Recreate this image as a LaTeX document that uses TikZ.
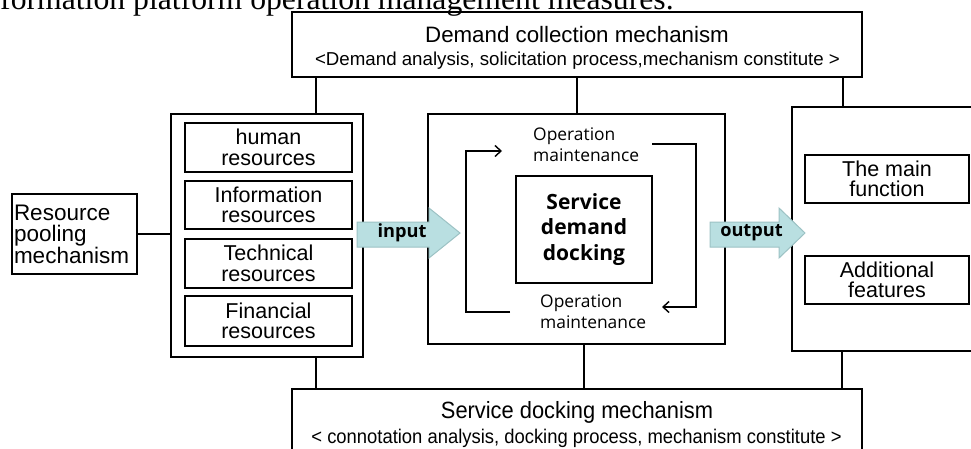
\documentclass[tikz,border=0pt]{standalone}
\usepackage{fontspec}
\setmainfont{Liberation Sans}
\newfontfamily\serifcap{Liberation Serif}
\newfontfamily\seg{Open Sans}
\newfontfamily\narrowsans[FakeStretch=0.93]{Liberation Sans}
\usetikzlibrary{arrows.meta}
\definecolor{arrfill}{HTML}{B9DFE1}
\definecolor{arrline}{HTML}{9CC2C4}
\begin{document}
\begin{tikzpicture}[x=1pt,y=-1pt,
  box/.style={draw, line width=1.8pt, inner sep=0pt, outer sep=0pt, align=center},
  resbox/.style={box, minimum width=167pt, font=\fontsize{21.5}{20.5}\selectfont},
  outbox/.style={box, minimum width=164pt, minimum height=48pt, font=\fontsize{21.5}{20.5}\selectfont},
  conn/.style={line width=1.8pt},
  loopline/.style={line width=1.4pt, -{Straight Barb[length=6pt,width=11pt,line width=1.4pt]}},
  blockarrow/.style={fill=arrfill, draw=arrline, line width=1pt, line join=miter},
  optext/.style={inner sep=0pt, align=left, font=\seg\fontsize{17.4}{20.5}\selectfont},
  arrtext/.style={inner sep=0pt, font=\seg\bfseries\fontsize{18.2}{20}\selectfont}]
\useasboundingbox (0,0) rectangle (971,448);
\clip (0,0) rectangle (971,448);

% cropped caption line at the top
\node[anchor=base west, inner sep=0pt, font=\serifcap\fontsize{31.7}{34}\selectfont] (cap) at (0,9) {formation platform operation management measures.};

% top and bottom mechanism boxes
\node[box, minimum width=570pt, minimum height=65pt] (topbox) at (577,44.5) {};
\node[anchor=base, inner sep=0pt, font=\fontsize{22.3}{24}\selectfont] (toptitle) at (577,42) {Demand collection mechanism};
\node[anchor=base, inner sep=0pt, font=\fontsize{18.7}{20}\selectfont] (topsub) at (577.5,65) {<Demand analysis, solicitation process,mechanism constitute >};

\node[box, minimum width=570pt, minimum height=71pt] (botbox) at (577,424.5) {};
\node[anchor=base, inner sep=0pt, font=\narrowsans\fontsize{23.5}{24}\selectfont] (bottitle) at (577,418) {Service docking mechanism};
\node[anchor=base, inner sep=0pt, font=\narrowsans\fontsize{19.8}{20}\selectfont] (botsub) at (576.5,443) {< connotation analysis, docking process, mechanism constitute >};

% resource pooling
\node[box, minimum width=125pt, minimum height=80pt, text width=121pt, inner xsep=2pt, align=left,
      font=\fontsize{22.5}{21.5}\selectfont] (pool) at (74.5,234) {Resource\\pooling\\mechanism};

% resources group
\node[box, minimum width=192pt, minimum height=243pt] (resgroup) at (267,235.5) {};
\node[resbox, minimum height=49pt] (human) at (268.5,147.5) {human\\resources};
\node[resbox, minimum height=48pt] (info) at (268.5,205) {Information\\resources};
\node[resbox, minimum height=49pt] (tech) at (268.5,263.5) {Technical\\resources};
\node[resbox, minimum height=50pt] (fin) at (268.5,321) {Financial\\resources};

% middle box
\node[box, minimum width=297pt, minimum height=230pt] (midbox) at (576.5,229) {};
\node[box, minimum width=136pt, minimum height=107pt, font=\seg\bfseries\fontsize{21}{25.5}\selectfont] (sdd) at (584,229.5) {Service\\demand\\docking};
\node[optext, anchor=base west] (optop) at (533,161) {Operation\\maintenance};
\node[optext, anchor=base west] (opbot) at (540,328) {Operation\\maintenance};
\coordinate (lstart) at (510,312);
\coordinate (lend) at (502,151);
\coordinate (rstart) at (652,144);
\coordinate (rend) at (662,307);
\draw[loopline] (lstart) -- (466,312) -- (466,151) -- (lend);
\draw[loopline] (rstart) -- (696,144) -- (696,307) -- (rend);

% right box
\node[box, minimum width=198pt, minimum height=244pt] (rightbox) at (891,229) {};
\node[outbox] (mainf) at (887,179) {The main\\function};
\node[outbox] (addf) at (887,280) {Additional\\features};

% connectors
\draw[conn] (topbox.south -| 316,0) -- (resgroup.north -| 316,0);
\draw[conn] (topbox.south -| 577,0) -- (midbox.north -| 577,0);
\draw[conn] (topbox.south -| 843,0) -- (rightbox.north -| 843,0);
\draw[conn] (resgroup.south -| 316,0) -- (botbox.north -| 316,0);
\draw[conn] (midbox.south -| 584,0) -- (botbox.north -| 584,0);
\draw[conn] (rightbox.south -| 842,0) -- (botbox.north -| 842,0);
\draw[conn] (pool.east) -- (pool.east -| resgroup.west);

% block arrows
\draw[blockarrow] (357,222) -- (429,222) -- (429,208) -- (460,233) -- (429,258) -- (429,247) -- (357,247) -- cycle;
\node[arrtext] (input) at (402,233) {input};
\draw[blockarrow] (710,222) -- (779,222) -- (779,208) -- (805,233) -- (779,258) -- (779,247) -- (710,247) -- cycle;
\node[arrtext] (output) at (751.5,233) {output};
\end{tikzpicture}
\end{document}
